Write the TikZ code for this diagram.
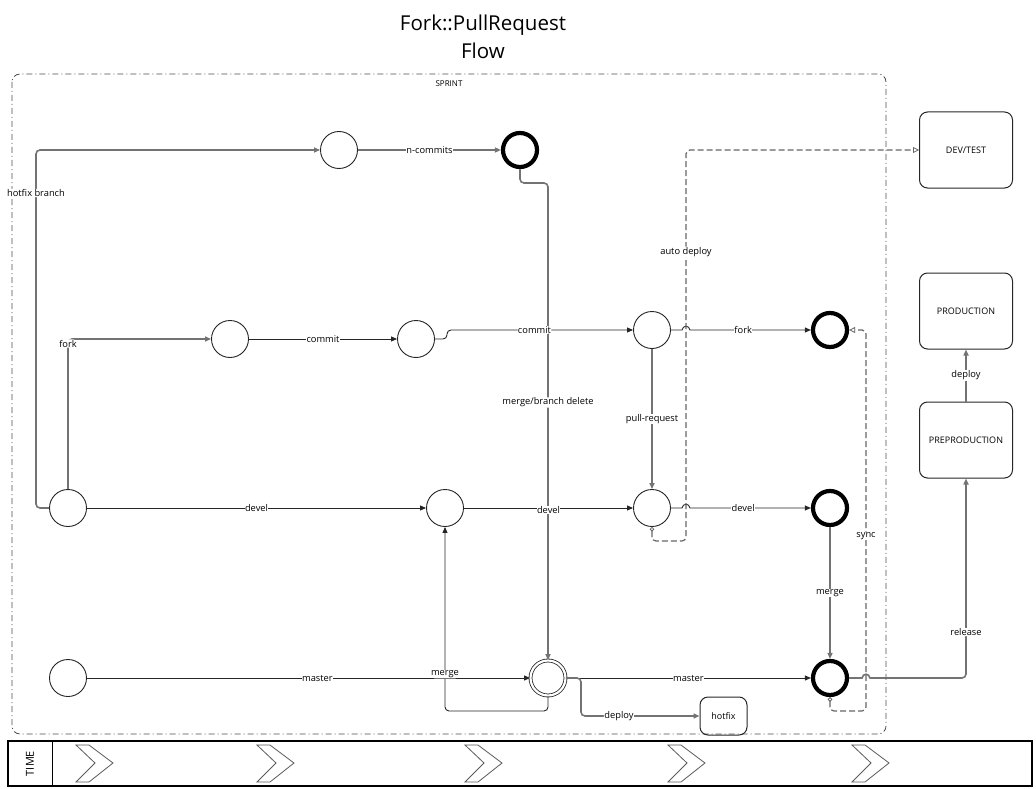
\documentclass[tikz,border=0pt]{standalone}
\usepackage{fontspec}
\setmainfont{Open Sans}
\usetikzlibrary{arrows.meta,shapes.geometric}
\tikzset{
  lbl/.style={fill=white,inner sep=0.5pt,text=black,font=\fontsize{9.3}{10}\selectfont},
  conn/.style={draw=black!85,line width=0.9pt,-{Triangle[length=6pt,width=5pt]}},
  conng/.style={draw=black!55,line width=1.6pt,-{Triangle[length=6pt,width=5pt]},shorten >=0pt},
  dconn/.style={draw=black!60,line width=1.2pt,dash pattern=on 6pt off 3pt,
     {Circle[open,length=4.5pt,width=4.5pt,line width=0.8pt]}-{Triangle[open,length=6pt,width=6pt,line width=0.8pt]}},
  st/.style={circle,draw=black!85,line width=0.9pt,minimum size=37pt,inner sep=0pt},
  stend/.style={circle,draw=black,line width=4.2pt,minimum size=34pt,inner sep=0pt},
  stdbl/.style={circle,draw=black!85,line width=0.8pt,double,double distance=2.2pt,minimum size=35pt,inner sep=0pt},
  env/.style={draw=black!85,line width=1pt,rounded corners=8pt,minimum width=93pt,minimum height=76pt,font=\fontsize{9}{10}\selectfont},
  chev/.style={draw=black!65,line width=0.8pt},
}
\begin{document}
\begin{tikzpicture}[x=1pt,y=-1pt]
\useasboundingbox (0,0) rectangle (1036,789);
% title
\node[font=\fontsize{20.5}{28}\selectfont,align=center] (title) at (483,37) {Fork::PullRequest\\Flow};
% sprint frame
\draw[black!70,line width=0.8pt,rounded corners=8pt,dash pattern=on 6pt off 3pt on 1pt off 3pt] (12,74) rectangle (886,734);
\node[font=\fontsize{8}{9}\selectfont] (sprint) at (449,84) {SPRINT};
% states
\node[st] (A0) at (68,508) {};
\node[st] (M0) at (68,678) {};
\node[st] (F1) at (230,339) {};
\node[st] (F2) at (416,339) {};
\node[st] (F3) at (652,330) {};
\node[stend] (F4) at (830,330) {};
\node[st] (H1) at (339,150) {};
\node[stend] (H2) at (520,150) {};
\node[st] (D1) at (445,508) {};
\node[st] (D2) at (652,508) {};
\node[stend] (D3) at (830,508) {};
\node[stdbl] (MM) at (548,678) {};
\node[stend] (MF) at (830,678) {};
% boxes
\node[env,minimum width=47pt,minimum height=38pt] (hotfix) at (723.5,716) {hotfix};
\node[env] (dev) at (966,150) {DEV/TEST};
\node[env] (prod) at (966,311) {PRODUCTION};
\node[env] (pre) at (966,440) {PREPRODUCTION};
% connectors
\draw[conng,rounded corners=4pt] (A0.west) -- (36,508) -- node[lbl,pos=0.88]{hotfix branch} (36,150) -- (H1.west);
\draw[conng,rounded corners=4pt] (A0.north) -- node[lbl,pos=0.97]{fork} (68,339) -- (F1.west);
\draw[conn] (F1) -- node[lbl]{commit} (F2);
\draw[conng,rounded corners=4pt] (H2.south) -- (520,183) -- (548,183) -- node[lbl,pos=0.46]{merge/branch delete} (MM.north);
\draw[conn,rounded corners=4pt] (F2.east) -- (447,339) -- (447,330) -- node[lbl,pos=0.47]{commit} (F3.west);
\draw[conn] (F3.east) -- (682,330) .. controls (683,325) and (689,325) .. (690,330) -- node[lbl,pos=0.44]{fork} (F4.west);
\draw[conng] (F3) -- node[lbl]{pull-request} (D2);
\draw[conn] (A0) -- node[lbl]{devel} (D1);
\draw[conn] (D1) -- node[lbl,yshift=-2pt]{devel} (D2);
\draw[conn] (D2.east) -- (682,508) .. controls (683,503) and (689,503) .. (690,508) -- node[lbl,pos=0.44]{devel} (D3.west);
\draw[conng] (H1) -- node[lbl]{n-commits} (H2);
\draw[conn] (M0) -- node[lbl,pos=0.52]{master} (MM);
\draw[conn,rounded corners=4pt] (MM.south) -- (548,711) -- (445,711) -- node[lbl,pos=0.2]{merge} (D1.south);
\draw[conn] (MM) -- node[lbl]{master} (MF);
\draw[conng,rounded corners=4pt] (MM.east) -- (581,678) -- (581,716) -- node[lbl,pos=0.32]{deploy} (hotfix.west);
\draw[conng] (D3) -- node[lbl]{merge} (MF);
\draw[conng] (MF.east) -- (862,678) .. controls (863,673) and (869,673) .. (870,678) [rounded corners=4pt] -- (966,678) -- node[lbl,pos=0.23]{release} (pre.south);
\draw[conng] (pre) -- node[lbl]{deploy} (prod);
\draw[dconn,rounded corners=4pt] (D2.south) -- (652,541) -- (686,541) -- node[lbl,pos=0.74]{auto deploy} (686,150) -- (dev.west);
\draw[dconn,rounded corners=4pt] (MF.south) -- (830,711) -- (866,711) -- node[lbl,pos=0.46]{sync} (866,330) -- (F4.east);
% time bar
\draw[black,line width=1.3pt] (8,741) rectangle (1032,786);
\draw[black,line width=1pt] (52,741) -- (52,786);
\node[rotate=90,font=\fontsize{11}{12}\selectfont] (time) at (30,763.5) {TIME};
\foreach \cx in {76,257,465,668,852}{
  \draw[chev] (\cx,745) -- ++(13,0) -- ++(24,18) -- ++(-24,19) -- ++(-13,0) -- ++(19,-19) -- cycle;
}
\end{tikzpicture}
\end{document}
